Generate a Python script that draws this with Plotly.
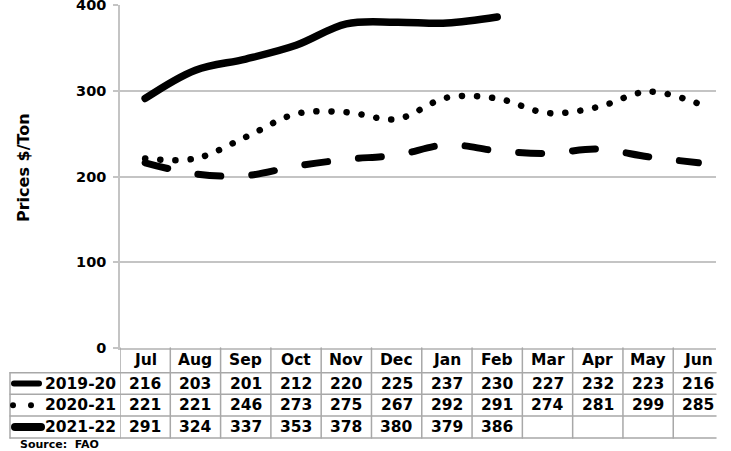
import plotly.graph_objects as go

# ---- data ----
months = ["Jul", "Aug", "Sep", "Oct", "Nov", "Dec", "Jan", "Feb", "Mar", "Apr", "May", "Jun"]
season_names = ["2019-20", "2020-21", "2021-22"]
prices_2019_20 = [216, 203, 201, 212, 220, 225, 237, 230, 227, 232, 223, 216]
prices_2020_21 = [221, 221, 246, 273, 275, 267, 292, 291, 274, 281, 299, 285]
prices_2021_22 = [291, 324, 337, 353, 378, 380, 379, 386]
y_ticks = [0, 100, 200, 300, 400]
source_text = "Source:  FAO"
y_title = "Prices $/Ton"

series = [prices_2019_20, prices_2020_21, prices_2021_22]

# ---- geometry (pixels) ----
W, H = 731, 451
L, R, T, B = 120, 15, 5, 103
plot_h = H - T - B
plot_w = W - L - R
y0_px = H - B  # pixel row of the zero line


def py(pix):
    """pixel row -> paper y"""
    return (y0_px - pix) / plot_h


def px(pix):
    """pixel column -> paper x"""
    return (pix - L) / plot_w


FONT = "DejaVu Sans"
GRID = "#c4c4c4"
TLINE = "#a8a8a8"
TSIZE = 15.5

fig = go.Figure()

styles = [
    dict(color="black", width=7, dash="23px,31px"),
    dict(color="black", width=6.5, dash="0.1px,15px"),
    dict(color="black", width=7.5, dash="solid"),
]
for name, vals, st in zip(season_names, series, styles):
    fig.add_trace(go.Scatter(
        x=months[:len(vals)], y=vals, name=name, mode="lines",
        line=dict(shape="spline", smoothing=1.0, **st),
        showlegend=False, hoverinfo="skip", cliponaxis=False,
    ))

fig.update_layout(
    width=W, height=H,
    margin=dict(l=L, r=R, t=T, b=B, autoexpand=False),
    paper_bgcolor="white", plot_bgcolor="white",
    xaxis=dict(
        type="category", categoryorder="array", categoryarray=months,
        range=[-0.5, 11.35], showticklabels=False, ticks="",
        showgrid=False, showline=True, linecolor=GRID, linewidth=1.5,
        zeroline=False, fixedrange=True, automargin=False,
    ),
    yaxis=dict(
        range=[0, 400], tickvals=y_ticks, ticks="outside", ticklen=5,
        tickcolor=GRID, tickwidth=1.5,
        tickfont=dict(family=FONT, size=14.5, color="black", weight="bold"),
        showgrid=True, gridcolor=GRID, gridwidth=1.5,
        showline=True, linecolor=GRID, linewidth=1.5, zeroline=False,
        ticklabelstandoff=4, fixedrange=True, automargin=False,
        ticklabeloverflow="allow",
    ),
)

# ---- data table under the chart ----
row_lines = [372.7, 394.3, 416.0, 438.0]
header_c = (y0_px + row_lines[0]) / 2
row_c = [(row_lines[i] + row_lines[i + 1]) / 2 for i in range(3)]
table_left = 10

shapes = []
for rl in row_lines:
    shapes.append(dict(type="line", xref="paper", yref="paper",
                       x0=px(table_left), x1=1, y0=py(rl), y1=py(rl),
                       line=dict(color=TLINE, width=1.5)))
shapes.append(dict(type="line", xref="paper", yref="paper",
                   x0=px(table_left), x1=px(table_left),
                   y0=py(row_lines[0]), y1=py(row_lines[-1]),
                   line=dict(color=TLINE, width=1.5)))
for i in range(len(months)):
    shapes.append(dict(type="line", xref="x", yref="paper",
                       x0=i - 0.5, x1=i - 0.5, y0=0, y1=py(row_lines[-1]),
                       line=dict(color=TLINE, width=1.5)))

annotations = []
for i, m in enumerate(months):
    annotations.append(dict(x=m, xref="x", y=py(header_c), yref="paper",
                            text=m, showarrow=False, xanchor="center", yanchor="middle",
                            font=dict(family=FONT, size=TSIZE, color="black", weight="bold")))
for r, (name, vals) in enumerate(zip(season_names, series)):
    annotations.append(dict(x=px(118), xref="paper", y=py(row_c[r]), yref="paper",
                            text=name, showarrow=False, xanchor="right", yanchor="middle",
                            font=dict(family=FONT, size=TSIZE, color="black", weight="bold")))
    for i, v in enumerate(vals):
        annotations.append(dict(x=months[i], xref="x", y=py(row_c[r]), yref="paper",
                                text=str(v), showarrow=False, xanchor="center", yanchor="middle",
                                font=dict(family=FONT, size=TSIZE, color="black", weight="bold")))

# legend keys in label column
shapes.append(dict(type="line", xref="paper", yref="paper",
                   x0=px(14), x1=px(39), y0=py(row_c[0]), y1=py(row_c[0]),
                   line=dict(color="black", width=6)))
for cx in (13, 31):
    shapes.append(dict(type="circle", xref="paper", yref="paper",
                       x0=px(cx - 3), x1=px(cx + 3),
                       y0=py(row_c[1] + 3), y1=py(row_c[1] - 3),
                       fillcolor="black", line=dict(color="black", width=0)))
shapes.append(dict(type="line", xref="paper", yref="paper",
                   x0=px(15), x1=px(41), y0=py(row_c[2]), y1=py(row_c[2]),
                   line=dict(color="black", width=8)))

annotations.append(dict(x=px(23), xref="paper", y=py(168), yref="paper",
                        text=y_title, textangle=-90, showarrow=False,
                        xanchor="center", yanchor="middle",
                        font=dict(family=FONT, size=16, color="black", weight="bold")))
annotations.append(dict(x=px(18), xref="paper", y=py(444), yref="paper",
                        text=source_text, showarrow=False,
                        xanchor="left", yanchor="middle",
                        font=dict(family=FONT, size=11, color="black", weight="bold")))

fig.update_layout(shapes=shapes, annotations=annotations)

post = """
document.body.style.margin = '0';
document.body.style.padding = '0';
document.body.style.overflow = 'hidden';
var gd = document.getElementById('{plot_id}');
gd.querySelectorAll('.scatterlayer path.js-line').forEach(function(p){
  p.style.strokeLinecap = 'round'; p.style.strokeLinejoin = 'round';
});
gd.querySelectorAll('.shapelayer path').forEach(function(p){
  p.style.strokeLinecap = 'round';
});
"""
fig.write_html("out.html", post_script=post, config={"displayModeBar": False})
